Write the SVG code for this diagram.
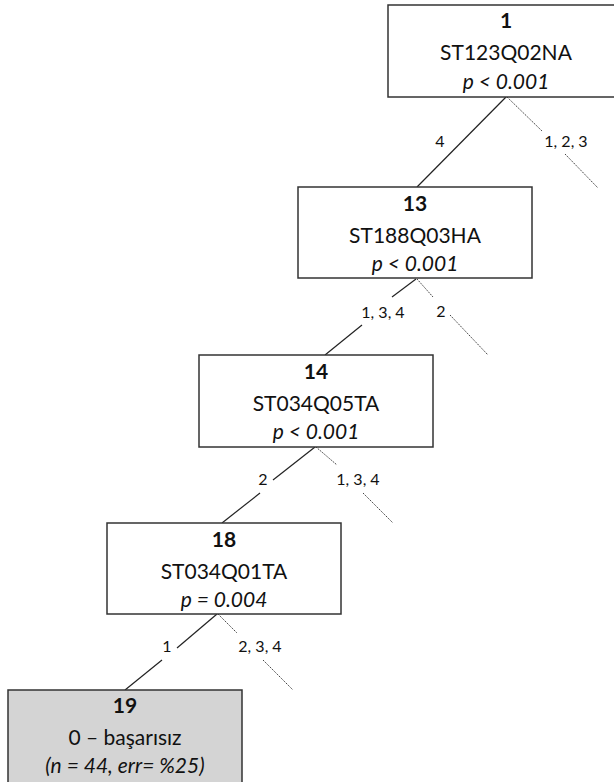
<svg xmlns="http://www.w3.org/2000/svg" width="614" height="782" viewBox="0 0 614 782">
<style>
.box{fill:#fff;stroke:#333;stroke-width:1.5}
.leaf{fill:#d4d4d4;stroke:#333;stroke-width:1.5}
text{font-family:Lato,"Liberation Sans",sans-serif;fill:#111;text-anchor:middle}
.id{font-size:21px;font-weight:bold}
.var{font-size:21px}
.p{font-size:21px;font-style:italic}
.lbl{font-size:16px}
.solid{stroke:#222;stroke-width:1.2;fill:none}
.dot{stroke:#444;stroke-width:1;stroke-dasharray:1.5 1;fill:none}
</style>
<rect width="614" height="782" fill="#fff"/>
<g id="connectors">
<line class="solid" x1="506" y1="97" x2="417" y2="187"/>
<line class="dot" x1="507" y1="97" x2="542" y2="131"/>
<line class="dot" x1="565" y1="154" x2="598" y2="188"/>
<line class="solid" x1="416" y1="279" x2="392" y2="297"/>
<line class="solid" x1="362" y1="325" x2="325" y2="355"/>
<line class="dot" x1="417" y1="279" x2="433" y2="297"/>
<line class="dot" x1="450" y1="315" x2="488" y2="355"/>
<line class="solid" x1="315" y1="447" x2="273" y2="480"/>
<line class="solid" x1="260" y1="493" x2="222" y2="523"/>
<line class="dot" x1="316" y1="447" x2="337" y2="465"/>
<line class="dot" x1="363" y1="493" x2="393" y2="523"/>
<line class="solid" x1="217" y1="614" x2="177" y2="648"/>
<line class="solid" x1="162" y1="660" x2="125" y2="690"/>
<line class="dot" x1="218" y1="614" x2="237" y2="633"/>
<line class="dot" x1="263" y1="660" x2="293" y2="690"/>
<text class="lbl" x="440" y="147">4</text>
<text class="lbl" x="566" y="147">1, 2, 3</text>
<text class="lbl" x="383" y="318">1, 3, 4</text>
<text class="lbl" x="441" y="317">2</text>
<text class="lbl" x="263" y="485">2</text>
<text class="lbl" x="358" y="485">1, 3, 4</text>
<text class="lbl" x="167" y="652">1</text>
<text class="lbl" x="260" y="652">2, 3, 4</text>
</g>
<g id="node1">
<rect class="box" x="388" y="5" width="234" height="92"/>
<text class="id" x="506" y="28">1</text>
<text class="var" x="506" y="60">ST123Q02NA</text>
<text class="p" x="506" y="89">p &lt; 0.001</text>
</g>
<g id="node13">
<rect class="box" x="298" y="187" width="234" height="91"/>
<text class="id" x="415" y="211">13</text>
<text class="var" x="415" y="243">ST188Q03HA</text>
<text class="p" x="415" y="271">p &lt; 0.001</text>
</g>
<g id="node14">
<rect class="box" x="199" y="355" width="234" height="92"/>
<text class="id" x="316" y="379">14</text>
<text class="var" x="316" y="411">ST034Q05TA</text>
<text class="p" x="316" y="439">p &lt; 0.001</text>
</g>
<g id="node18">
<rect class="box" x="107" y="523" width="234" height="91"/>
<text class="id" x="224" y="547">18</text>
<text class="var" x="224" y="579">ST034Q01TA</text>
<text class="p" x="224" y="607">p = 0.004</text>
</g>
<g id="node19">
<rect class="leaf" x="8" y="690" width="234" height="100"/>
<text class="id" x="125" y="713">19</text>
<text class="var" x="125" y="745">0 – başarısız</text>
<text class="p" x="125" y="773">(n = 44, err= %25)</text>
</g>
</svg>
